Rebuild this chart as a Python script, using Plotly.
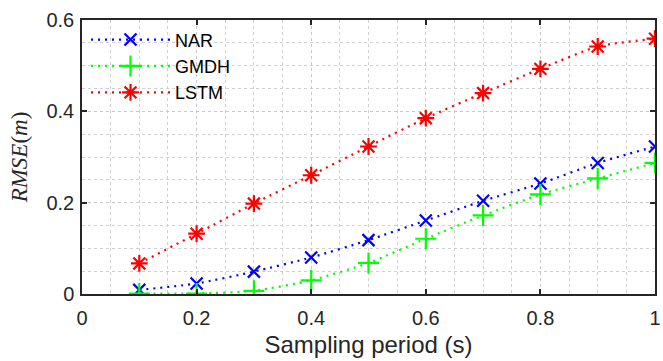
import plotly.graph_objects as go

x_vals = [0.1, 0.2, 0.3, 0.4, 0.5, 0.6, 0.7, 0.8, 0.9, 1.0]
nar = [0.009, 0.023, 0.049, 0.080, 0.118, 0.161, 0.204, 0.242, 0.287, 0.323]
gmdh = [0.001, 0.001, 0.007, 0.030, 0.068, 0.121, 0.172, 0.218, 0.253, 0.287]
lstm = [0.067, 0.132, 0.198, 0.260, 0.323, 0.385, 0.440, 0.493, 0.542, 0.559]

series = [
    ("NAR", nar, "#0000FF", "x-thin-open", 12),
    ("GMDH", gmdh, "#00FF00", "cross-thin-open", 15),
    ("LSTM", lstm, "#FF0000", "asterisk-open", 14),
]

fig = go.Figure()
for name, ys, col, sym, sz in series:
    fig.add_trace(go.Scatter(
        x=x_vals, y=ys, name=name, mode="lines+markers",
        line=dict(color=col, width=2.2, dash="2px,5px", shape="spline", smoothing=0.6),
        marker=dict(symbol=sym, size=sz, color=col, line=dict(color=col, width=2.2)),
    ))

axis_common = dict(
    showline=True, linecolor="#262626", linewidth=1.5, mirror="ticks",
    ticks="inside", ticklen=5, tickcolor="#262626", tickwidth=1.5,
    showgrid=True, gridcolor="#C8C8C8", griddash="dot", gridwidth=1,
    zeroline=False, ticklabeloverflow="allow",
    tickfont=dict(family="Liberation Sans, Arial", size=20, color="#262626"),
)

fig.update_xaxes(
    range=[0, 1], tickvals=[0, 0.2, 0.4, 0.6, 0.8, 1], ticktext=["0", "0.2", "0.4", "0.6", "0.8", "1"],
    minor=dict(dtick=0.05, tick0=0, showgrid=True, gridcolor="#D0D0D0", griddash="dot", ticks=""),
    ticklabelstandoff=5,
    title=dict(text="Sampling period (s)", font=dict(family="Liberation Sans, Arial", size=24, color="#262626"), standoff=8),
    **axis_common,
)
fig.update_yaxes(
    range=[0, 0.6], tickvals=[0, 0.2, 0.4, 0.6], ticktext=["0", "0.2", "0.4", "0.6"],
    minor=dict(dtick=0.05, tick0=0, showgrid=True, gridcolor="#D0D0D0", griddash="dot", ticks=""),
    ticklabelstandoff=2,
    title=dict(text="<i>RMSE</i>(<i>m</i>)", font=dict(family="Liberation Serif, Times New Roman", size=23, color="#262626"), standoff=12),
    **axis_common,
)

fig.update_layout(
    width=663, height=361,
    margin=dict(l=82, r=2, t=20, b=67),
    plot_bgcolor="white", paper_bgcolor="white",
    legend=dict(
        x=0.007, y=0.995, xanchor="left", yanchor="top",
        bgcolor="rgba(255,255,255,0)", borderwidth=0,
        font=dict(family="Liberation Sans, Arial", size=18, color="#000000"),
        itemwidth=79, tracegroupgap=0,
    ),
    showlegend=True,
)

fig.write_html("out.html")
